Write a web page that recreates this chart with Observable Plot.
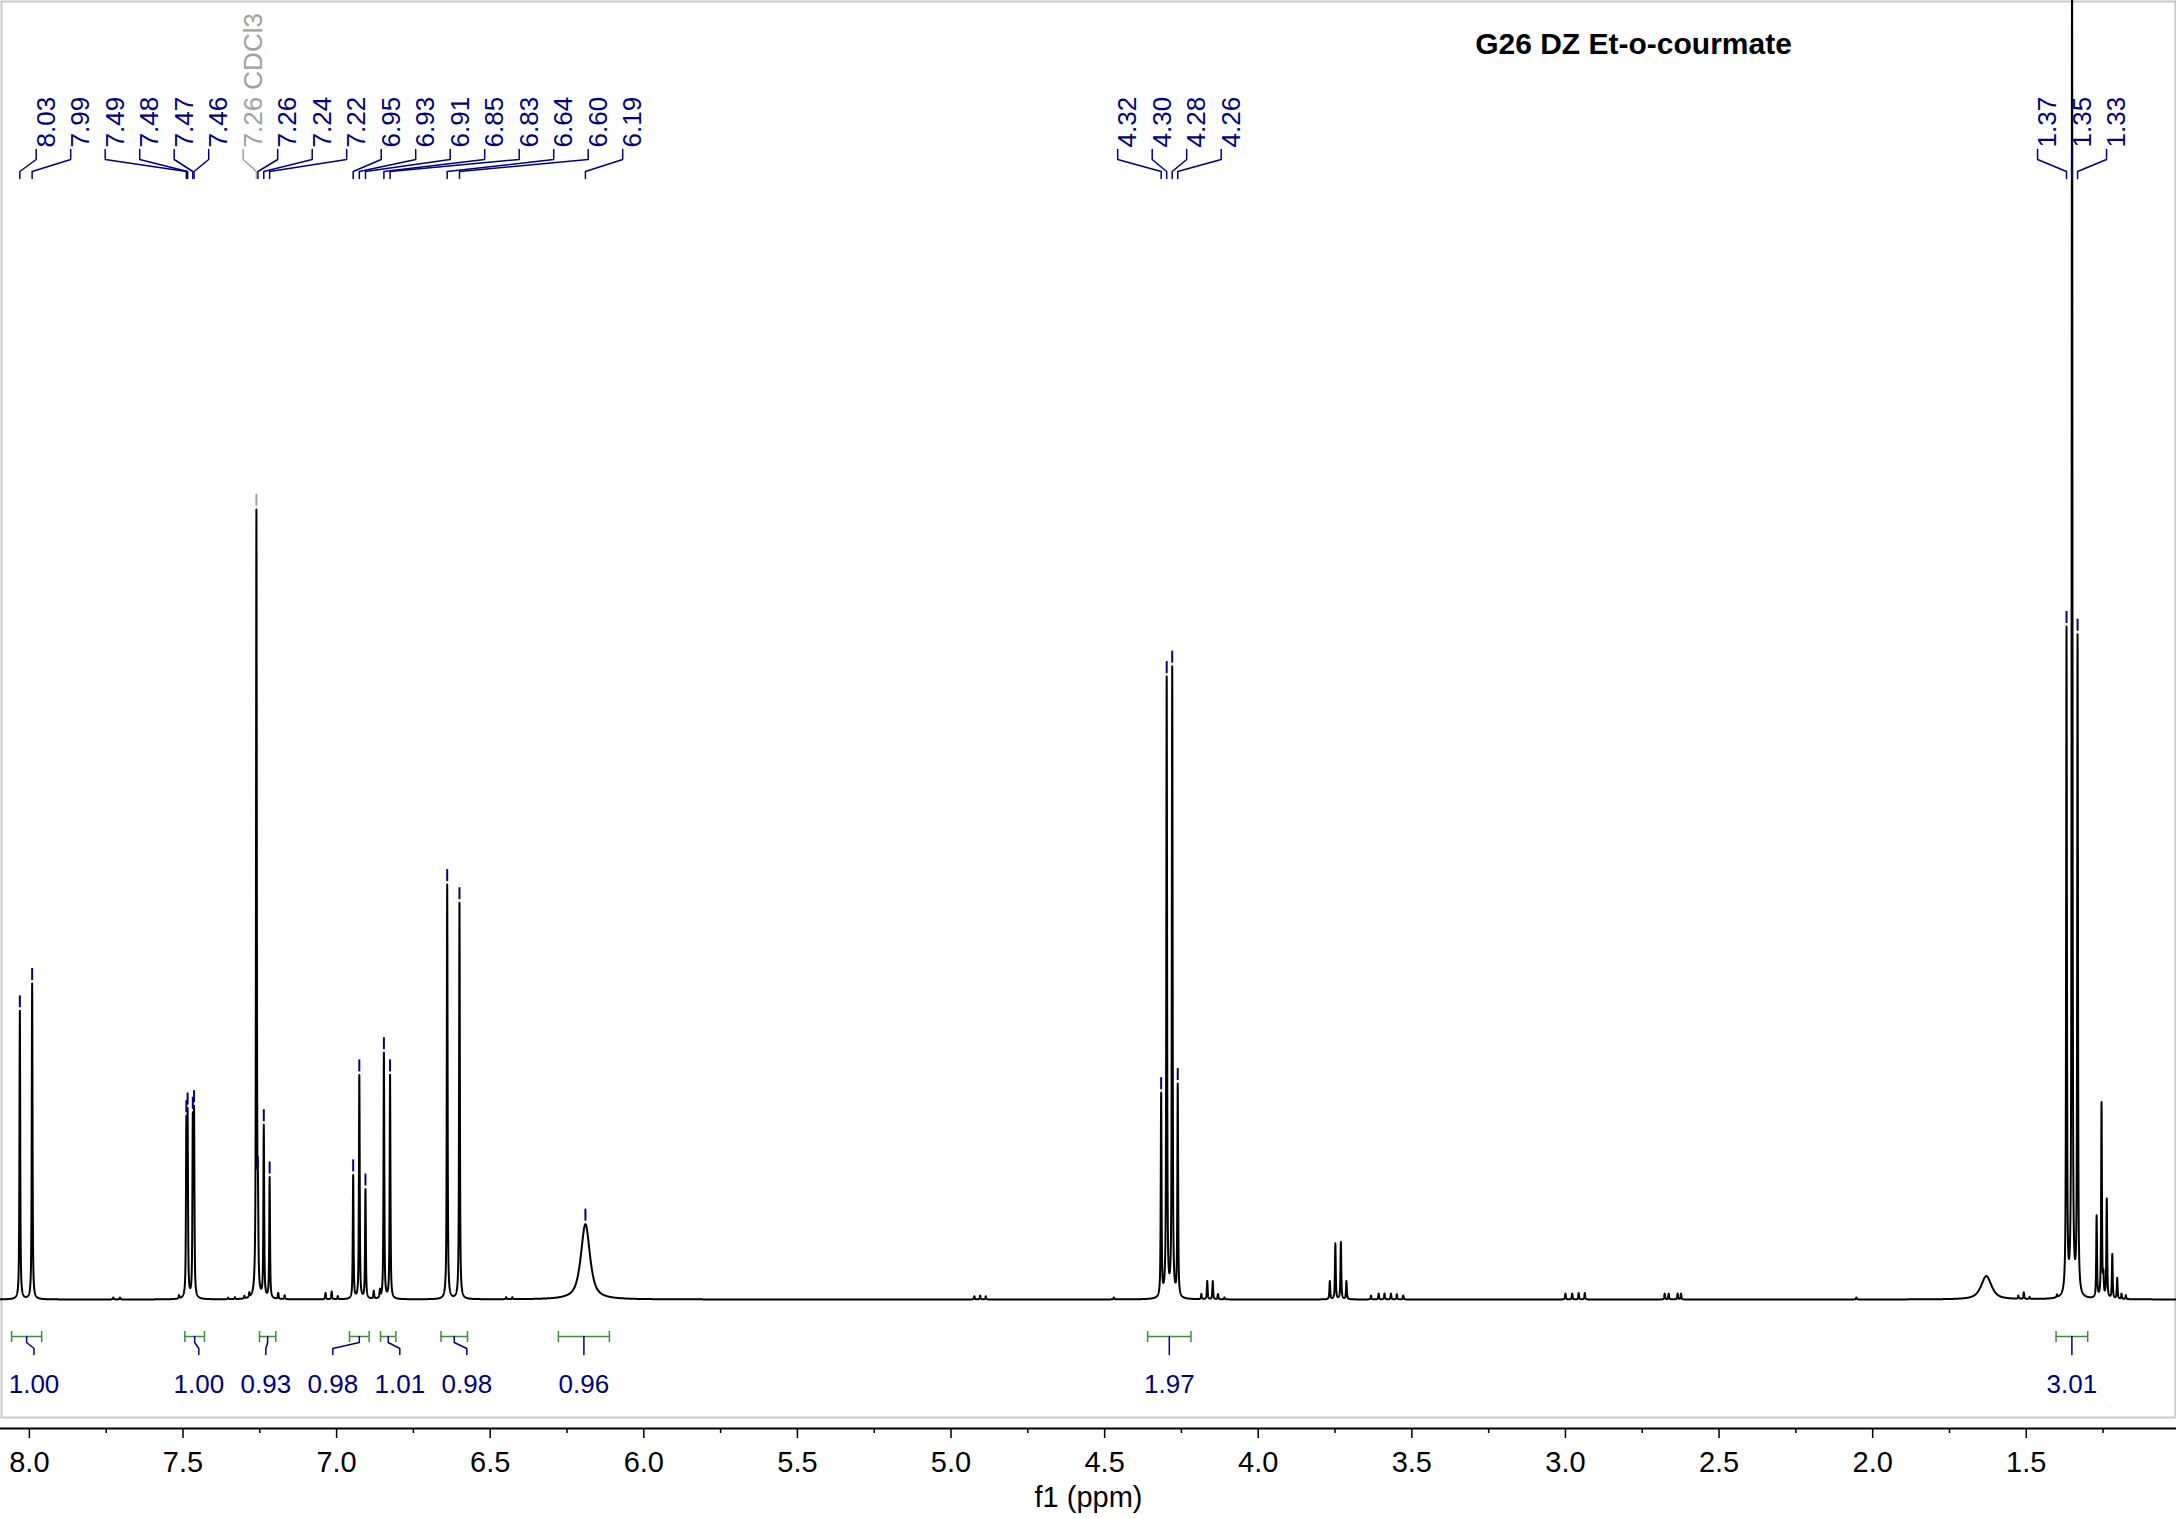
<!DOCTYPE html>
<html>
<head>
<meta charset="utf-8">
<script src="https://cdn.jsdelivr.net/npm/d3@7"></script>
<script src="https://cdn.jsdelivr.net/npm/@observablehq/plot@0.6"></script>
<style>
  html, body { margin: 0; padding: 0; background: #fff; }
  #chart svg { display: block; }
</style>
</head>
<body>
<div id="chart"></div>
<script>
// ---------------- DATA ----------------
const title = "G26 DZ Et-o-courmate";
const xLabel = "f1 (ppm)";
const xDomain = [8.094, 1.011];
const xTicks = [8.0, 7.5, 7.0, 6.5, 6.0, 5.5, 5.0, 4.5, 4.0, 3.5, 3.0, 2.5, 2.0, 1.5];
const xMinorTicks = [7.75, 7.25, 6.75, 6.25, 5.75, 5.25, 4.75, 4.25, 3.75, 3.25, 2.75, 2.25, 1.75, 1.25];

// Spectrum peaks: position (ppm), apex height (% of full vertical scale), line width (ppm)
const peakPpm = [8.031, 7.991, 7.727, 7.705, 7.513, 7.489, 7.485, 7.468, 7.464, 7.353, 7.331, 7.300, 7.284,
  7.261, 7.256, 7.237, 7.218, 7.190, 7.169, 7.036, 7.016, 6.996, 6.946, 6.926, 6.906, 6.879, 6.859, 6.846, 6.826,
  6.640, 6.600, 6.448, 6.428, 6.190, 4.924, 4.905, 4.887, 4.470, 4.316, 4.298, 4.280, 4.262, 4.185, 4.166, 4.148,
  4.131, 4.110, 3.767, 3.749, 3.731, 3.713, 3.633, 3.608, 3.589, 3.568, 3.549, 3.528, 3.000, 2.978, 2.957, 2.937,
  2.677, 2.664, 2.635, 2.624, 2.053, 1.630, 1.526, 1.508, 1.489, 1.400, 1.369, 1.351, 1.333, 1.271, 1.255, 1.249,
  1.238, 1.220, 1.204, 1.190, 1.176];
const peakHeight = [22.2, 24.3, 0.15, 0.15, 0.25, 12.8, 13.4, 13.0, 13.6, 0.12, 0.15, 0.2, 0.35,
  60.4, 6.0, 13.2, 9.3, 0.45, 0.3, 0.5, 0.6, 0.25, 9.5, 17.2, 8.4, 0.6, 0.6, 18.9, 17.2,
  31.9, 30.5, 0.15, 0.15, 5.8, 0.25, 0.3, 0.25, 0.15, 15.6, 47.6, 48.4, 16.3, 0.4, 1.4, 1.4,
  0.4, 0.15, 1.4, 4.3, 4.4, 1.4, 0.3, 0.45, 0.45, 0.45, 0.4, 0.3, 0.45, 0.45, 0.5, 0.5,
  0.45, 0.45, 0.45, 0.45, 0.15, 1.8, 0.25, 0.5, 0.15, 0.2, 51.2, 103, 50.6, 6.3, 15.0, 1.5,
  7.6, 3.4, 1.6, 0.4, 0.3];
const peakWidth = peakPpm.map((p, i) => (p === 6.190 ? 0.035 : p === 1.630 ? 0.04 : 0.003));

// Peak picking labels
const pickPpm = [8.031, 7.991, 7.489, 7.485, 7.468, 7.464, 7.261, 7.256, 7.237, 7.218, 6.946, 6.926, 6.906,
  6.846, 6.826, 6.640, 6.600, 6.190, 4.316, 4.298, 4.280, 4.262, 1.369, 1.351, 1.333];
const pickText = ["8.03", "7.99", "7.49", "7.48", "7.47", "7.46", "7.26", "7.26", "7.24", "7.22", "6.95", "6.93", "6.91",
  "6.85", "6.83", "6.64", "6.60", "6.19", "4.32", "4.30", "4.28", "4.26", "1.37", "1.35", "1.33"];
const pickSolvent = ["", "", "", "", "", "", "CDCl3", "", "", "", "", "", "", "", "", "", "", "", "", "", "", "", "", "", ""];

// Integrals
const integralFrom = [8.058, 7.494, 7.251, 6.958, 6.857, 6.660, 6.278, 4.360, 1.403];
const integralTo = [7.960, 7.430, 7.198, 6.894, 6.807, 6.574, 6.112, 4.219, 1.300];
const integralValue = ["1.00", "1.00", "0.93", "0.98", "1.01", "0.98", "0.96", "1.97", "3.01"];

// ---------------- LAYOUT ----------------
const W = 2176, H = 1518;
const marginBottom = 90;           // axis line position
const baselinePx = 1299;           // spectrum baseline
const unitPx = baselinePx / 100;   // px per % unit
const yMin = -(H - marginBottom - baselinePx) / unitPx;
const yU = px => (baselinePx - px) / unitPx;
const xs = d3.scaleLinear().domain(xDomain).range([0, W]);

const navy = "#000080", green = "#3c8c3c", gray = "#a0a0a0";
const font = "'Liberation Sans', Arial, Helvetica, sans-serif";

// line shape (pseudo-Voigt) summing the peak list
function spectrumAt(x) {
  let s = 0;
  for (let i = 0; i < peakPpm.length; i++) {
    const hw = peakWidth[i] / 2;
    const t = (x - peakPpm[i]) / hw;
    const t2 = t * t;
    if (t2 > 4e6) continue;
    s += peakHeight[i] * (0.75 / (1 + t2) + 0.25 * Math.exp(-Math.LN2 * t2));
  }
  return s;
}
const xsGrid = d3.range(xDomain[1], xDomain[0], 0.0004).concat(peakPpm).sort((a, b) => b - a);
const spectrum = xsGrid.map(x => ({ppm: x, y: spectrumAt(x)}));

// label spreading (clusters of evenly spaced labels)
function spread(pos, s, lo, hi, gap) {
  let groups = pos.map(p => ({sum: p, n: 1}));
  const start = g => Math.max(lo, Math.min(hi - (g.n - 1) * s, g.sum / g.n - (g.n - 1) * s / 2));
  let merged = true;
  while (merged) {
    merged = false;
    for (let k = 0; k < groups.length - 1; k++) {
      const a = groups[k], b = groups[k + 1];
      if (start(a) + (a.n - 1) * s + gap > start(b) + 1e-6) {
        groups.splice(k, 2, {sum: a.sum + b.sum, n: a.n + b.n});
        merged = true;
        break;
      }
    }
  }
  const out = [];
  for (const g of groups) { const s0 = start(g); for (let i = 0; i < g.n; i++) out.push(s0 + i * s); }
  return out;
}

const picks = pickPpm.map((p, i) => ({
  ppm: p, px: xs(p), text: pickText[i] + (pickSolvent[i] ? " " + pickSolvent[i] : ""),
  solvent: !!pickSolvent[i], apex: spectrumAt(p)
}));
const pickLx = spread(picks.map(d => d.px), 34.5, 35.7, W - 35, 34.5);
picks.forEach((d, i) => { d.lx = pickLx[i]; });
const pickConn = picks.flatMap((d, i) => [
  {id: i, solvent: d.solvent, x: xs.invert(d.lx), y: yU(149)},
  {id: i, solvent: d.solvent, x: xs.invert(d.lx), y: yU(159)},
  {id: i, solvent: d.solvent, x: d.ppm, y: yU(171)},
  {id: i, solvent: d.solvent, x: d.ppm, y: yU(178)}
]);

const integrals = integralFrom.map((f, i) => ({from: f, to: integralTo[i], value: integralValue[i], mid: (f + integralTo[i]) / 2}));
const intLx = spread(integrals.map(d => xs(d.mid)), 67, 33.5, W - 40, 75);
integrals.forEach((d, i) => { d.lx = intLx[i]; });
const intEnds = integrals.flatMap(d => [{x: d.from}, {x: d.to}]);
const intConn = integrals.flatMap((d, i) => [
  {id: i, x: d.mid, y: yU(1336)},
  {id: i, x: d.mid, y: yU(1342)},
  {id: i, x: xs.invert(d.lx), y: yU(1348)},
  {id: i, x: xs.invert(d.lx), y: yU(1354)}
]);

const chart = Plot.plot({
  width: W,
  height: H,
  marginTop: 0, marginLeft: 0, marginRight: 0, marginBottom,
  style: {fontFamily: font, background: "#fff", color: "#000"},
  x: {domain: xDomain, label: null},
  y: {domain: [yMin, 100], axis: null},
  marks: [
    Plot.frame({stroke: "#c8c8c8", strokeWidth: 2, insetBottom: 11, insetLeft: 1, insetTop: 1, insetRight: 1}),
    // axis
    Plot.frame({anchor: "bottom", stroke: "#000", strokeWidth: 2}),
    Plot.axisX({ticks: xTicks, anchor: "bottom", tickSize: 10, tickPadding: 13, fontSize: 29,
      tickFormat: d => d.toFixed(1), label: null, strokeWidth: 1.5}),
    Plot.axisX({ticks: xMinorTicks, anchor: "bottom", tickSize: 5, tickFormat: () => "", label: null, strokeWidth: 1.5}),
    Plot.text([xLabel], {frameAnchor: "bottom", dy: 78, lineAnchor: "bottom", fontSize: 29, fill: "#000"}),
    // spectrum
    Plot.line(spectrum, {x: "ppm", y: "y", stroke: "#000", strokeWidth: 2, clip: "frame", curve: "linear"}),
    // peak pick markers
    Plot.ruleX(picks, {x: "ppm", y1: d => d.apex + 3 / unitPx, y2: d => d.apex + 15 / unitPx,
      stroke: d => (d.solvent ? gray : navy), strokeWidth: 2, clip: "frame"}),
    // peak labels and connectors
    Plot.line(pickConn.filter(d => !d.solvent), {x: "x", y: "y", z: "id", stroke: navy, strokeWidth: 1.5}),
    Plot.line(pickConn.filter(d => d.solvent), {x: "x", y: "y", z: "id", stroke: gray, strokeWidth: 1.5}),
    Plot.text(picks.filter(d => !d.solvent), {x: d => xs.invert(d.lx), frameAnchor: "top", dy: 147, rotate: -90,
      textAnchor: "start", text: "text", fill: navy, fontSize: 26}),
    Plot.text(picks.filter(d => d.solvent), {x: d => xs.invert(d.lx), frameAnchor: "top", dy: 147, rotate: -90,
      textAnchor: "start", text: "text", fill: gray, fontSize: 26}),
    // integrals
    Plot.ruleY(integrals, {x1: "from", x2: "to", y: () => yU(1336), stroke: green, strokeWidth: 1.5}),
    Plot.ruleX(intEnds, {x: "x", y1: yU(1331), y2: yU(1342), stroke: green, strokeWidth: 1.5}),
    Plot.line(intConn, {x: "x", y: "y", z: "id", stroke: navy, strokeWidth: 1.5}),
    Plot.text(integrals, {x: d => xs.invert(d.lx), y: () => yU(1392), lineAnchor: "bottom", text: "value",
      fill: navy, fontSize: 26}),
    // title
    Plot.text([title], {frameAnchor: "top-left", dx: 1633, dy: 53, textAnchor: "middle", lineAnchor: "bottom",
      fontWeight: "bold", fontSize: 30, fill: "#000"})
  ]
});
document.getElementById("chart").appendChild(chart);
</script>
</body>
</html>
